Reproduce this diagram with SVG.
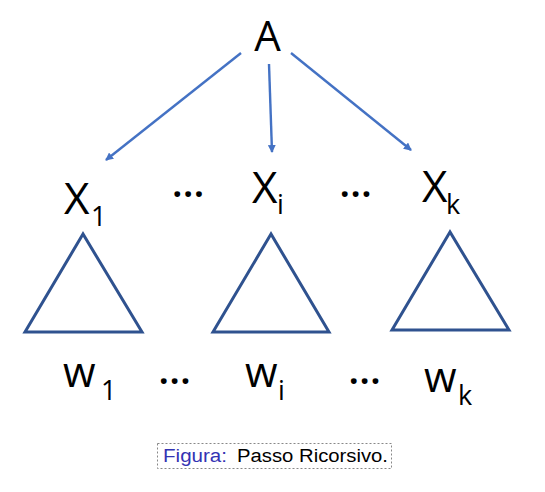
<svg xmlns="http://www.w3.org/2000/svg" width="545" height="492" viewBox="0 0 545 492">
<style>
.lbl{font-family:"Open Sans","Liberation Sans",sans-serif;fill:#000}
.big{font-size:44px}
.sub{font-size:27px}
.w{font-size:42px;font-weight:500}
.dots{font-family:"Open Sans","Liberation Sans",sans-serif;font-size:40px;text-anchor:middle;font-weight:600}
.tri{fill:none;stroke:#2F528F;stroke-width:3}
.edge{stroke:#4472C4;stroke-width:2.4;fill:none;marker-end:url(#ah)}
.cap{font-family:"Liberation Sans",sans-serif;font-size:18px}
</style>
<defs>
<marker id="ah" markerWidth="8" markerHeight="8" refX="7" refY="4" orient="auto" markerUnits="userSpaceOnUse">
<path d="M0,0 L8,4 L0,8 Z" fill="#4472C4"/>
</marker>
</defs>
<rect width="545" height="492" fill="#fff"/>
<g id="connectors">
<line class="edge" x1="241" y1="53" x2="106" y2="160"/>
<line class="edge" x1="269" y1="64" x2="272" y2="152"/>
<line class="edge" x1="291" y1="53" x2="411" y2="150"/>
</g>
<g id="A"><text class="lbl" x="267.5" y="51" font-size="42" text-anchor="middle">A</text></g>
<g id="X1"><text class="lbl big" x="64" y="214">X</text><text class="lbl sub" x="91" y="226">1</text></g>
<g id="Xi"><text class="lbl big" x="252" y="203">X</text><text class="lbl sub" x="277" y="214">i</text></g>
<g id="Xk"><text class="lbl big" x="422" y="202">X</text><text class="lbl sub" x="446" y="214">k</text></g>
<g id="dots-top"><text class="dots" x="188" y="197">…</text><text class="dots" x="355.5" y="197">…</text></g>
<g id="T1"><polygon class="tri" points="83,234 25,332 142,332"/></g>
<g id="Ti"><polygon class="tri" points="271,234 213,332 329,332"/></g>
<g id="Tk"><polygon class="tri" points="450,232 392,330 509,330"/></g>
<g id="w1"><text class="lbl w" x="63" y="387">w</text><text class="lbl sub" x="101" y="400">1</text></g>
<g id="wi"><text class="lbl w" x="245" y="387">w</text><text class="lbl sub" x="278" y="400">i</text></g>
<g id="wk"><text class="lbl w" x="424" y="392">w</text><text class="lbl sub" x="458" y="405">k</text></g>
<g id="dots-bottom"><text class="dots" x="174.5" y="384">…</text><text class="dots" x="364.5" y="384">…</text></g>
<g id="caption">
<rect x="157.5" y="443.5" width="234" height="25" fill="none" stroke="#888" stroke-width="1" stroke-dasharray="2,2"/>
<text class="cap" x="163" y="462"><tspan fill="#3333B3" textLength="64" lengthAdjust="spacingAndGlyphs">Figura:</tspan><tspan x="237" fill="#000" textLength="151" lengthAdjust="spacingAndGlyphs">Passo Ricorsivo.</tspan></text>
</g>
</svg>
